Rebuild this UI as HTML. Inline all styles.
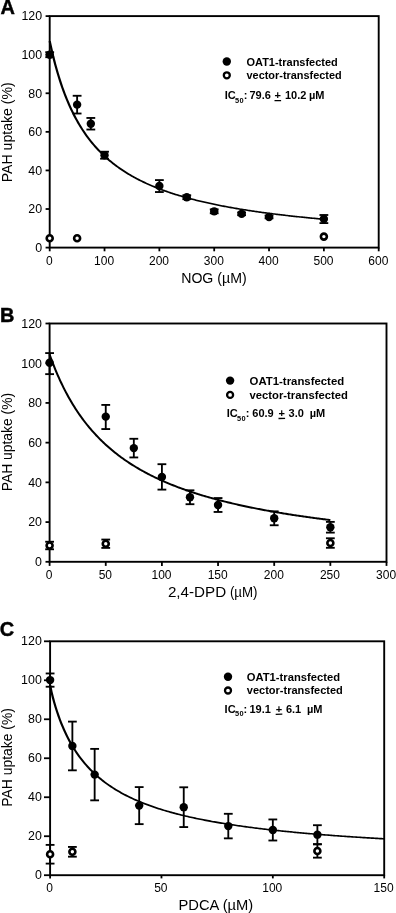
<!DOCTYPE html>
<html><head><meta charset="utf-8"><title>PAH uptake</title>
<style>
html,body{margin:0;padding:0;background:#fff;}
body{width:396px;height:913px;overflow:hidden;}
svg{display:block;font-family:"Liberation Sans",sans-serif;fill:#000;}
svg text{white-space:pre;}
</style></head><body>
<svg width="396" height="913" viewBox="0 0 396 913">
<rect x="0" y="0" width="396" height="913" fill="#fff"/>
<g stroke="#000" fill="none" stroke-linecap="butt">
<rect x="49.70" y="16.10" width="329.00" height="231.50" stroke-width="1.9"/>
<line x1="45.60" y1="247.60" x2="49.70" y2="247.60" stroke-width="1.8" />
<line x1="45.60" y1="209.02" x2="49.70" y2="209.02" stroke-width="1.8" />
<line x1="45.60" y1="170.43" x2="49.70" y2="170.43" stroke-width="1.8" />
<line x1="45.60" y1="131.85" x2="49.70" y2="131.85" stroke-width="1.8" />
<line x1="45.60" y1="93.27" x2="49.70" y2="93.27" stroke-width="1.8" />
<line x1="45.60" y1="54.68" x2="49.70" y2="54.68" stroke-width="1.8" />
<line x1="45.60" y1="16.10" x2="49.70" y2="16.10" stroke-width="1.8" />
<line x1="49.70" y1="247.60" x2="49.70" y2="251.30" stroke-width="1.8" />
<line x1="104.53" y1="247.60" x2="104.53" y2="251.30" stroke-width="1.8" />
<line x1="159.37" y1="247.60" x2="159.37" y2="251.30" stroke-width="1.8" />
<line x1="214.20" y1="247.60" x2="214.20" y2="251.30" stroke-width="1.8" />
<line x1="269.03" y1="247.60" x2="269.03" y2="251.30" stroke-width="1.8" />
<line x1="323.87" y1="247.60" x2="323.87" y2="251.30" stroke-width="1.8" />
<line x1="378.70" y1="247.60" x2="378.70" y2="251.30" stroke-width="1.8" />
<polyline transform="scale(1,0.72)" points="49.70,57.19 50.84,64.51 51.98,71.45 53.13,78.07 54.27,84.36 55.41,90.37 56.55,96.10 57.70,101.59 58.84,106.83 59.98,111.85 61.12,116.66 62.27,121.28 63.41,125.72 64.55,129.98 65.69,134.07 66.84,138.02 67.98,141.81 69.12,145.47 70.26,149.00 71.40,152.41 72.55,155.70 73.69,158.88 74.83,161.95 75.97,164.92 77.12,167.80 78.26,170.59 79.40,173.29 80.54,175.90 81.69,178.44 82.83,180.90 83.97,183.29 85.11,185.61 86.26,187.87 87.40,190.06 88.54,192.19 89.68,194.26 90.83,196.28 91.97,198.24 93.11,200.15 94.25,202.01 95.39,203.83 96.54,205.59 97.68,207.32 98.82,209.00 99.96,210.64 101.11,212.24 102.25,213.81 103.39,215.33 104.53,216.82 105.68,218.28 106.82,219.70 107.96,221.10 109.10,222.46 110.25,223.79 111.39,225.09 112.53,226.37 113.67,227.61 114.81,228.83 115.96,230.03 117.10,231.20 118.24,232.35 119.38,233.47 120.53,234.58 121.67,235.66 122.81,236.71 123.95,237.75 125.10,238.77 126.24,239.77 127.38,240.75 128.52,241.71 129.67,242.66 130.81,243.58 131.95,244.49 133.09,245.39 134.23,246.27 135.38,247.13 136.52,247.98 137.66,248.81 138.80,249.63 139.95,250.43 141.09,251.22 142.23,252.00 143.37,252.76 144.52,253.51 145.66,254.25 146.80,254.98 147.94,255.70 149.09,256.40 150.23,257.10 151.37,257.78 152.51,258.45 153.65,259.11 154.80,259.76 155.94,260.40 157.08,261.03 158.22,261.66 159.37,262.27 160.51,262.87 161.65,263.47 162.79,264.05 163.94,264.63 165.08,265.20 166.22,265.76 167.36,266.31 168.51,266.86 169.65,267.40 170.79,267.93 171.93,268.45 173.07,268.97 174.22,269.48 175.36,269.98 176.50,270.47 177.64,270.96 178.79,271.45 179.93,271.92 181.07,272.39 182.21,272.85 183.36,273.31 184.50,273.76 185.64,274.21 186.78,274.65 187.93,275.09 189.07,275.51 190.21,275.94 191.35,276.36 192.50,276.77 193.64,277.18 194.78,277.58 195.92,277.98 197.06,278.38 198.21,278.77 199.35,279.15 200.49,279.53 201.63,279.91 202.78,280.28 203.92,280.65 205.06,281.01 206.20,281.37 207.35,281.72 208.49,282.07 209.63,282.42 210.77,282.76 211.92,283.10 213.06,283.44 214.20,283.77 215.34,284.10 216.48,284.42 217.63,284.74 218.77,285.06 219.91,285.38 221.05,285.69 222.20,285.99 223.34,286.30 224.48,286.60 225.62,286.90 226.77,287.19 227.91,287.49 229.05,287.77 230.19,288.06 231.34,288.34 232.48,288.62 233.62,288.90 234.76,289.18 235.90,289.45 237.05,289.72 238.19,289.98 239.33,290.25 240.47,290.51 241.62,290.77 242.76,291.02 243.90,291.28 245.04,291.53 246.19,291.78 247.33,292.03 248.47,292.27 249.61,292.51 250.76,292.75 251.90,292.99 253.04,293.22 254.18,293.46 255.32,293.69 256.47,293.92 257.61,294.14 258.75,294.37 259.89,294.59 261.04,294.81 262.18,295.03 263.32,295.25 264.46,295.46 265.61,295.68 266.75,295.89 267.89,296.10 269.03,296.31 270.18,296.51 271.32,296.72 272.46,296.92 273.60,297.12 274.75,297.32 275.89,297.51 277.03,297.71 278.17,297.90 279.31,298.10 280.46,298.29 281.60,298.48 282.74,298.66 283.88,298.85 285.03,299.03 286.17,299.22 287.31,299.40 288.45,299.58 289.60,299.76 290.74,299.93 291.88,300.11 293.02,300.28 294.17,300.46 295.31,300.63 296.45,300.80 297.59,300.97 298.73,301.13 299.88,301.30 301.02,301.47 302.16,301.63 303.30,301.79 304.45,301.95 305.59,302.11 306.73,302.27 307.87,302.43 309.02,302.59 310.16,302.74 311.30,302.89 312.44,303.05 313.59,303.20 314.73,303.35 315.87,303.50 317.01,303.65 318.15,303.79 319.30,303.94 320.44,304.09 321.58,304.23 322.72,304.37 323.87,304.52" stroke-width="2.25" stroke-linejoin="round"/>
<line x1="49.70" y1="52.18" x2="49.70" y2="57.19" stroke-width="1.85" />
<line x1="45.30" y1="52.18" x2="54.10" y2="52.18" stroke-width="1.85" />
<line x1="45.30" y1="57.19" x2="54.10" y2="57.19" stroke-width="1.85" />
<line x1="77.12" y1="95.77" x2="77.12" y2="113.52" stroke-width="1.85" />
<line x1="72.72" y1="95.77" x2="81.52" y2="95.77" stroke-width="1.85" />
<line x1="72.72" y1="113.52" x2="81.52" y2="113.52" stroke-width="1.85" />
<line x1="90.83" y1="117.96" x2="90.83" y2="129.53" stroke-width="1.85" />
<line x1="86.42" y1="117.96" x2="95.23" y2="117.96" stroke-width="1.85" />
<line x1="86.42" y1="129.53" x2="95.23" y2="129.53" stroke-width="1.85" />
<line x1="104.53" y1="151.72" x2="104.53" y2="158.67" stroke-width="1.85" />
<line x1="100.13" y1="151.72" x2="108.93" y2="151.72" stroke-width="1.85" />
<line x1="100.13" y1="158.67" x2="108.93" y2="158.67" stroke-width="1.85" />
<line x1="159.37" y1="180.08" x2="159.37" y2="192.04" stroke-width="1.85" />
<line x1="154.97" y1="180.08" x2="163.77" y2="180.08" stroke-width="1.85" />
<line x1="154.97" y1="192.04" x2="163.77" y2="192.04" stroke-width="1.85" />
<line x1="186.78" y1="195.32" x2="186.78" y2="199.18" stroke-width="1.85" />
<line x1="182.38" y1="195.32" x2="191.18" y2="195.32" stroke-width="1.85" />
<line x1="182.38" y1="199.18" x2="191.18" y2="199.18" stroke-width="1.85" />
<line x1="214.20" y1="209.40" x2="214.20" y2="213.26" stroke-width="1.85" />
<line x1="209.80" y1="209.40" x2="218.60" y2="209.40" stroke-width="1.85" />
<line x1="209.80" y1="213.26" x2="218.60" y2="213.26" stroke-width="1.85" />
<line x1="241.62" y1="212.49" x2="241.62" y2="215.19" stroke-width="1.85" />
<line x1="237.22" y1="212.49" x2="246.02" y2="212.49" stroke-width="1.85" />
<line x1="237.22" y1="215.19" x2="246.02" y2="215.19" stroke-width="1.85" />
<line x1="269.03" y1="215.58" x2="269.03" y2="218.28" stroke-width="1.85" />
<line x1="264.63" y1="215.58" x2="273.43" y2="215.58" stroke-width="1.85" />
<line x1="264.63" y1="218.28" x2="273.43" y2="218.28" stroke-width="1.85" />
<line x1="323.87" y1="215.00" x2="323.87" y2="223.10" stroke-width="1.85" />
<line x1="319.47" y1="215.00" x2="328.27" y2="215.00" stroke-width="1.85" />
<line x1="319.47" y1="223.10" x2="328.27" y2="223.10" stroke-width="1.85" />
</g>
<circle cx="49.70" cy="54.68" r="4.2" fill="#000"/>
<circle cx="77.12" cy="104.65" r="4.2" fill="#000"/>
<circle cx="90.83" cy="123.75" r="4.2" fill="#000"/>
<circle cx="104.53" cy="155.19" r="4.2" fill="#000"/>
<circle cx="159.37" cy="186.06" r="4.2" fill="#000"/>
<circle cx="186.78" cy="197.25" r="4.2" fill="#000"/>
<circle cx="214.20" cy="211.33" r="4.2" fill="#000"/>
<circle cx="241.62" cy="213.84" r="4.2" fill="#000"/>
<circle cx="269.03" cy="216.93" r="4.2" fill="#000"/>
<circle cx="323.87" cy="219.05" r="4.2" fill="#000"/>
<circle cx="49.70" cy="238.24" r="3.0" fill="#fff" stroke="#000" stroke-width="2.6"/>
<circle cx="77.12" cy="238.24" r="3.0" fill="#fff" stroke="#000" stroke-width="2.6"/>
<circle cx="323.87" cy="236.60" r="3.0" fill="#fff" stroke="#000" stroke-width="2.6"/>
<text transform="translate(42.10,251.90) scale(1.035,1)" font-size="12" text-anchor="end">0</text>
<text transform="translate(42.10,213.32) scale(1.035,1)" font-size="12" text-anchor="end">20</text>
<text transform="translate(42.10,174.73) scale(1.035,1)" font-size="12" text-anchor="end">40</text>
<text transform="translate(42.10,136.15) scale(1.035,1)" font-size="12" text-anchor="end">60</text>
<text transform="translate(42.10,97.57) scale(1.035,1)" font-size="12" text-anchor="end">80</text>
<text transform="translate(42.10,58.98) scale(1.035,1)" font-size="12" text-anchor="end">100</text>
<text transform="translate(42.10,20.40) scale(1.035,1)" font-size="12" text-anchor="end">120</text>
<text transform="translate(49.30,264.50) scale(1.0,1)" font-size="12" text-anchor="middle">0</text>
<text transform="translate(104.13,264.50) scale(1.0,1)" font-size="12" text-anchor="middle">100</text>
<text transform="translate(158.97,264.50) scale(1.0,1)" font-size="12" text-anchor="middle">200</text>
<text transform="translate(213.80,264.50) scale(1.0,1)" font-size="12" text-anchor="middle">300</text>
<text transform="translate(268.63,264.50) scale(1.0,1)" font-size="12" text-anchor="middle">400</text>
<text transform="translate(323.47,264.50) scale(1.0,1)" font-size="12" text-anchor="middle">500</text>
<text transform="translate(378.30,264.50) scale(1.0,1)" font-size="12" text-anchor="middle">600</text>
<text transform="translate(12,132.25) rotate(-90)" font-size="14.1" text-anchor="middle">PAH uptake (%)</text>
<text transform="translate(213.90,283.30) scale(1.01,1)" font-size="14" text-anchor="middle">NOG (µM)</text>
<text transform="translate(0.4,14.4) scale(0.95,1)" font-size="21" font-weight="bold" stroke="#000" stroke-width="0.45">A</text>
<circle cx="226.80" cy="61.50" r="4.2" fill="#000"/>
<circle cx="226.80" cy="75.30" r="3.0" fill="#fff" stroke="#000" stroke-width="2.3"/>
<text x="246.50" y="65.80" font-size="10.85" text-anchor="start" font-weight="bold" textLength="91.3" lengthAdjust="spacingAndGlyphs">OAT1-transfected</text>
<text x="246.50" y="79.15" font-size="10.85" text-anchor="start" font-weight="bold" textLength="95.2" lengthAdjust="spacingAndGlyphs">vector-transfected</text>
<text x="224.70" y="99.10" font-size="11" text-anchor="start" font-weight="bold" >IC</text>
<text x="235.00" y="102.80" font-size="7.4" text-anchor="start" font-weight="bold" letter-spacing="0.4">50</text>
<text x="243.70" y="99.10" font-size="11" text-anchor="start" font-weight="bold" >:</text>
<text x="249.50" y="99.10" font-size="11" text-anchor="start" font-weight="bold" >79.6</text>
<text x="274.50" y="99.10" font-size="11" text-anchor="start" font-weight="bold" >+</text>
<line x1="274.50" y1="100.70" x2="281.10" y2="100.60" stroke-width="1.3" stroke="#000"/>
<text x="285.00" y="99.10" font-size="11" text-anchor="start" font-weight="bold" >10.2</text>
<text x="308.90" y="99.10" font-size="11" text-anchor="start" font-weight="bold" >µM</text>
<g stroke="#000" fill="none" stroke-linecap="butt">
<rect x="49.60" y="323.50" width="336.90" height="238.30" stroke-width="1.9"/>
<line x1="45.50" y1="561.80" x2="49.60" y2="561.80" stroke-width="1.8" />
<line x1="45.50" y1="522.08" x2="49.60" y2="522.08" stroke-width="1.8" />
<line x1="45.50" y1="482.37" x2="49.60" y2="482.37" stroke-width="1.8" />
<line x1="45.50" y1="442.65" x2="49.60" y2="442.65" stroke-width="1.8" />
<line x1="45.50" y1="402.93" x2="49.60" y2="402.93" stroke-width="1.8" />
<line x1="45.50" y1="363.22" x2="49.60" y2="363.22" stroke-width="1.8" />
<line x1="45.50" y1="323.50" x2="49.60" y2="323.50" stroke-width="1.8" />
<line x1="49.60" y1="561.80" x2="49.60" y2="565.90" stroke-width="1.8" />
<line x1="105.75" y1="561.80" x2="105.75" y2="565.90" stroke-width="1.8" />
<line x1="161.90" y1="561.80" x2="161.90" y2="565.90" stroke-width="1.8" />
<line x1="218.05" y1="561.80" x2="218.05" y2="565.90" stroke-width="1.8" />
<line x1="274.20" y1="561.80" x2="274.20" y2="565.90" stroke-width="1.8" />
<line x1="330.35" y1="561.80" x2="330.35" y2="565.90" stroke-width="1.8" />
<line x1="386.50" y1="561.80" x2="386.50" y2="565.90" stroke-width="1.8" />
<polyline transform="scale(1,0.95)" points="49.60,373.14 50.77,376.56 51.94,379.88 53.11,383.10 54.28,386.22 55.45,389.25 56.62,392.19 57.79,395.06 58.96,397.84 60.13,400.54 61.30,403.17 62.47,405.73 63.64,408.22 64.81,410.64 65.98,413.01 67.15,415.31 68.32,417.56 69.49,419.74 70.66,421.88 71.83,423.96 73.00,426.00 74.17,427.98 75.34,429.92 76.51,431.81 77.67,433.66 78.84,435.47 80.01,437.24 81.18,438.97 82.35,440.66 83.52,442.31 84.69,443.93 85.86,445.52 87.03,447.07 88.20,448.59 89.37,450.08 90.54,451.53 91.71,452.96 92.88,454.36 94.05,455.74 95.22,457.08 96.39,458.40 97.56,459.69 98.73,460.96 99.90,462.21 101.07,463.43 102.24,464.63 103.41,465.81 104.58,466.97 105.75,468.10 106.92,469.22 108.09,470.31 109.26,471.39 110.43,472.45 111.60,473.49 112.77,474.51 113.94,475.52 115.11,476.50 116.28,477.48 117.45,478.43 118.62,479.37 119.79,480.30 120.96,481.21 122.13,482.10 123.30,482.98 124.47,483.85 125.64,484.70 126.81,485.55 127.98,486.37 129.15,487.19 130.32,487.99 131.49,488.78 132.66,489.56 133.82,490.33 134.99,491.09 136.16,491.83 137.33,492.56 138.50,493.29 139.67,494.00 140.84,494.71 142.01,495.40 143.18,496.08 144.35,496.76 145.52,497.42 146.69,498.08 147.86,498.73 149.03,499.37 150.20,500.00 151.37,500.62 152.54,501.23 153.71,501.84 154.88,502.43 156.05,503.02 157.22,503.61 158.39,504.18 159.56,504.75 160.73,505.31 161.90,505.86 163.07,506.41 164.24,506.95 165.41,507.48 166.58,508.01 167.75,508.53 168.92,509.04 170.09,509.55 171.26,510.05 172.43,510.54 173.60,511.03 174.77,511.52 175.94,511.99 177.11,512.47 178.28,512.93 179.45,513.40 180.62,513.85 181.79,514.30 182.96,514.75 184.13,515.19 185.30,515.63 186.47,516.06 187.64,516.49 188.81,516.91 189.97,517.33 191.14,517.74 192.31,518.15 193.48,518.55 194.65,518.95 195.82,519.35 196.99,519.74 198.16,520.13 199.33,520.51 200.50,520.89 201.67,521.26 202.84,521.64 204.01,522.00 205.18,522.37 206.35,522.73 207.52,523.08 208.69,523.44 209.86,523.79 211.03,524.13 212.20,524.47 213.37,524.81 214.54,525.15 215.71,525.48 216.88,525.81 218.05,526.14 219.22,526.46 220.39,526.78 221.56,527.10 222.73,527.41 223.90,527.72 225.07,528.03 226.24,528.34 227.41,528.64 228.58,528.94 229.75,529.24 230.92,529.53 232.09,529.82 233.26,530.11 234.43,530.40 235.60,530.68 236.77,530.96 237.94,531.24 239.11,531.51 240.28,531.79 241.45,532.06 242.62,532.33 243.79,532.60 244.96,532.86 246.12,533.12 247.29,533.38 248.46,533.64 249.63,533.89 250.80,534.15 251.97,534.40 253.14,534.65 254.31,534.89 255.48,535.14 256.65,535.38 257.82,535.62 258.99,535.86 260.16,536.10 261.33,536.33 262.50,536.56 263.67,536.80 264.84,537.02 266.01,537.25 267.18,537.48 268.35,537.70 269.52,537.92 270.69,538.14 271.86,538.36 273.03,538.58 274.20,538.79 275.37,539.01 276.54,539.22 277.71,539.43 278.88,539.64 280.05,539.84 281.22,540.05 282.39,540.25 283.56,540.45 284.73,540.65 285.90,540.85 287.07,541.05 288.24,541.25 289.41,541.44 290.58,541.63 291.75,541.83 292.92,542.02 294.09,542.20 295.26,542.39 296.43,542.58 297.60,542.76 298.77,542.95 299.94,543.13 301.11,543.31 302.28,543.49 303.44,543.67 304.61,543.84 305.78,544.02 306.95,544.19 308.12,544.37 309.29,544.54 310.46,544.71 311.63,544.88 312.80,545.05 313.97,545.22 315.14,545.38 316.31,545.55 317.48,545.71 318.65,545.87 319.82,546.03 320.99,546.20 322.16,546.36 323.33,546.51 324.50,546.67 325.67,546.83 326.84,546.98 328.01,547.14 329.18,547.29 330.35,547.44" stroke-width="2.05" stroke-linejoin="round"/>
<line x1="49.60" y1="353.09" x2="49.60" y2="374.14" stroke-width="1.85" />
<line x1="45.20" y1="353.09" x2="54.00" y2="353.09" stroke-width="1.85" />
<line x1="45.20" y1="374.14" x2="54.00" y2="374.14" stroke-width="1.85" />
<line x1="105.75" y1="404.92" x2="105.75" y2="429.05" stroke-width="1.85" />
<line x1="101.35" y1="404.92" x2="110.15" y2="404.92" stroke-width="1.85" />
<line x1="101.35" y1="429.05" x2="110.15" y2="429.05" stroke-width="1.85" />
<line x1="133.82" y1="438.78" x2="133.82" y2="457.44" stroke-width="1.85" />
<line x1="129.42" y1="438.78" x2="138.22" y2="438.78" stroke-width="1.85" />
<line x1="129.42" y1="457.44" x2="138.22" y2="457.44" stroke-width="1.85" />
<line x1="161.90" y1="464.20" x2="161.90" y2="489.61" stroke-width="1.85" />
<line x1="157.50" y1="464.20" x2="166.30" y2="464.20" stroke-width="1.85" />
<line x1="157.50" y1="489.61" x2="166.30" y2="489.61" stroke-width="1.85" />
<line x1="189.97" y1="490.31" x2="189.97" y2="504.21" stroke-width="1.85" />
<line x1="185.57" y1="490.31" x2="194.38" y2="490.31" stroke-width="1.85" />
<line x1="185.57" y1="504.21" x2="194.38" y2="504.21" stroke-width="1.85" />
<line x1="218.05" y1="498.05" x2="218.05" y2="511.96" stroke-width="1.85" />
<line x1="213.65" y1="498.05" x2="222.45" y2="498.05" stroke-width="1.85" />
<line x1="213.65" y1="511.96" x2="222.45" y2="511.96" stroke-width="1.85" />
<line x1="274.20" y1="511.36" x2="274.20" y2="525.26" stroke-width="1.85" />
<line x1="269.80" y1="511.36" x2="278.60" y2="511.36" stroke-width="1.85" />
<line x1="269.80" y1="525.26" x2="278.60" y2="525.26" stroke-width="1.85" />
<line x1="330.35" y1="521.88" x2="330.35" y2="532.61" stroke-width="1.85" />
<line x1="325.95" y1="521.88" x2="334.75" y2="521.88" stroke-width="1.85" />
<line x1="325.95" y1="532.61" x2="334.75" y2="532.61" stroke-width="1.85" />
<line x1="49.60" y1="541.74" x2="49.60" y2="549.29" stroke-width="1.85" />
<line x1="45.20" y1="541.74" x2="54.00" y2="541.74" stroke-width="1.85" />
<line x1="45.20" y1="549.29" x2="54.00" y2="549.29" stroke-width="1.85" />
<line x1="105.75" y1="539.56" x2="105.75" y2="547.90" stroke-width="1.85" />
<line x1="101.35" y1="539.56" x2="110.15" y2="539.56" stroke-width="1.85" />
<line x1="101.35" y1="547.90" x2="110.15" y2="547.90" stroke-width="1.85" />
<line x1="330.35" y1="538.27" x2="330.35" y2="547.80" stroke-width="1.85" />
<line x1="325.95" y1="538.27" x2="334.75" y2="538.27" stroke-width="1.85" />
<line x1="325.95" y1="547.80" x2="334.75" y2="547.80" stroke-width="1.85" />
</g>
<circle cx="49.60" cy="362.82" r="4.2" fill="#000"/>
<circle cx="105.75" cy="416.64" r="4.2" fill="#000"/>
<circle cx="133.82" cy="448.11" r="4.2" fill="#000"/>
<circle cx="161.90" cy="476.91" r="4.2" fill="#000"/>
<circle cx="189.97" cy="497.26" r="4.2" fill="#000"/>
<circle cx="218.05" cy="505.01" r="4.2" fill="#000"/>
<circle cx="274.20" cy="518.31" r="4.2" fill="#000"/>
<circle cx="330.35" cy="527.25" r="4.2" fill="#000"/>
<circle cx="49.60" cy="545.52" r="3.0" fill="#fff" stroke="#000" stroke-width="2.6"/>
<circle cx="105.75" cy="543.73" r="3.0" fill="#fff" stroke="#000" stroke-width="2.6"/>
<circle cx="330.35" cy="543.03" r="3.0" fill="#fff" stroke="#000" stroke-width="2.6"/>
<text transform="translate(42.00,566.10) scale(1.035,1)" font-size="12" text-anchor="end">0</text>
<text transform="translate(42.00,526.38) scale(1.035,1)" font-size="12" text-anchor="end">20</text>
<text transform="translate(42.00,486.67) scale(1.035,1)" font-size="12" text-anchor="end">40</text>
<text transform="translate(42.00,446.95) scale(1.035,1)" font-size="12" text-anchor="end">60</text>
<text transform="translate(42.00,407.23) scale(1.035,1)" font-size="12" text-anchor="end">80</text>
<text transform="translate(42.00,367.52) scale(1.035,1)" font-size="12" text-anchor="end">100</text>
<text transform="translate(42.00,327.80) scale(1.035,1)" font-size="12" text-anchor="end">120</text>
<text transform="translate(49.20,578.90) scale(1.0,1)" font-size="12" text-anchor="middle">0</text>
<text transform="translate(105.35,578.90) scale(1.0,1)" font-size="12" text-anchor="middle">50</text>
<text transform="translate(161.50,578.90) scale(1.0,1)" font-size="12" text-anchor="middle">100</text>
<text transform="translate(217.65,578.90) scale(1.0,1)" font-size="12" text-anchor="middle">150</text>
<text transform="translate(273.80,578.90) scale(1.0,1)" font-size="12" text-anchor="middle">200</text>
<text transform="translate(329.95,578.90) scale(1.0,1)" font-size="12" text-anchor="middle">250</text>
<text transform="translate(386.10,578.90) scale(1.0,1)" font-size="12" text-anchor="middle">300</text>
<text transform="translate(12,442.05) rotate(-90)" font-size="13.9" text-anchor="middle">PAH uptake (%)</text>
<text transform="translate(167.90,597.30) scale(1.085,1)" font-size="14">2,4-DPD</text>
<text transform="translate(229.90,597.30) scale(0.95,1)" font-size="14">(µM)</text>
<text transform="translate(0.0,321.9) scale(0.95,1)" font-size="21" font-weight="bold" stroke="#000" stroke-width="0.45">B</text>
<circle cx="230.10" cy="380.60" r="4.2" fill="#000"/>
<circle cx="230.10" cy="394.90" r="3.0" fill="#fff" stroke="#000" stroke-width="2.3"/>
<text x="249.60" y="385.20" font-size="11.2" text-anchor="start" font-weight="bold" textLength="94.6" lengthAdjust="spacingAndGlyphs">OAT1-transfected</text>
<text x="249.60" y="399.05" font-size="11.2" text-anchor="start" font-weight="bold" textLength="98.2" lengthAdjust="spacingAndGlyphs">vector-transfected</text>
<text x="226.70" y="416.90" font-size="11" text-anchor="start" font-weight="bold" >IC</text>
<text x="237.00" y="420.60" font-size="7.4" text-anchor="start" font-weight="bold" letter-spacing="0.4">50</text>
<text x="245.70" y="416.90" font-size="11" text-anchor="start" font-weight="bold" >:</text>
<text x="252.30" y="416.90" font-size="11" text-anchor="start" font-weight="bold" >60.9</text>
<text x="278.50" y="416.90" font-size="11" text-anchor="start" font-weight="bold" >+</text>
<line x1="278.50" y1="418.50" x2="285.10" y2="418.40" stroke-width="1.3" stroke="#000"/>
<text x="288.60" y="416.90" font-size="11" text-anchor="start" font-weight="bold" >3.0</text>
<text x="309.70" y="416.90" font-size="11" text-anchor="start" font-weight="bold" >µM</text>
<g stroke="#000" fill="none" stroke-linecap="butt">
<rect x="50.10" y="641.30" width="334.10" height="233.90" stroke-width="1.9"/>
<line x1="44.00" y1="875.20" x2="50.10" y2="875.20" stroke-width="1.8" />
<line x1="44.00" y1="836.22" x2="50.10" y2="836.22" stroke-width="1.8" />
<line x1="44.00" y1="797.23" x2="50.10" y2="797.23" stroke-width="1.8" />
<line x1="44.00" y1="758.25" x2="50.10" y2="758.25" stroke-width="1.8" />
<line x1="44.00" y1="719.27" x2="50.10" y2="719.27" stroke-width="1.8" />
<line x1="44.00" y1="680.28" x2="50.10" y2="680.28" stroke-width="1.8" />
<line x1="44.00" y1="641.30" x2="50.10" y2="641.30" stroke-width="1.8" />
<line x1="50.10" y1="875.20" x2="50.10" y2="878.40" stroke-width="1.8" />
<line x1="161.47" y1="875.20" x2="161.47" y2="878.40" stroke-width="1.8" />
<line x1="272.83" y1="875.20" x2="272.83" y2="878.40" stroke-width="1.8" />
<line x1="384.20" y1="875.20" x2="384.20" y2="878.40" stroke-width="1.8" />
<polyline transform="scale(1,0.72)" points="50.10,951.71 51.49,960.90 52.88,968.74 54.28,975.84 55.67,982.38 57.06,988.45 58.45,994.12 59.84,999.43 61.24,1004.43 62.63,1009.15 64.02,1013.61 65.41,1017.84 66.81,1021.86 68.20,1025.68 69.59,1029.32 70.98,1032.79 72.37,1036.11 73.77,1039.29 75.16,1042.33 76.55,1045.25 77.94,1048.05 79.33,1050.74 80.73,1053.33 82.12,1055.82 83.51,1058.22 84.90,1060.53 86.29,1062.76 87.69,1064.92 89.08,1067.00 90.47,1069.01 91.86,1070.96 93.25,1072.85 94.65,1074.68 96.04,1076.45 97.43,1078.16 98.82,1079.83 100.22,1081.45 101.61,1083.02 103.00,1084.54 104.39,1086.03 105.78,1087.47 107.18,1088.87 108.57,1090.24 109.96,1091.57 111.35,1092.86 112.74,1094.12 114.14,1095.35 115.53,1096.55 116.92,1097.72 118.31,1098.87 119.70,1099.98 121.10,1101.07 122.49,1102.13 123.88,1103.17 125.27,1104.18 126.66,1105.17 128.06,1106.14 129.45,1107.09 130.84,1108.02 132.23,1108.93 133.62,1109.82 135.02,1110.69 136.41,1111.54 137.80,1112.37 139.19,1113.19 140.59,1113.99 141.98,1114.78 143.37,1115.55 144.76,1116.30 146.15,1117.04 147.55,1117.77 148.94,1118.48 150.33,1119.18 151.72,1119.87 153.11,1120.54 154.51,1121.20 155.90,1121.85 157.29,1122.49 158.68,1123.12 160.07,1123.74 161.47,1124.34 162.86,1124.94 164.25,1125.52 165.64,1126.10 167.03,1126.66 168.43,1127.22 169.82,1127.77 171.21,1128.30 172.60,1128.83 174.00,1129.35 175.39,1129.87 176.78,1130.37 178.17,1130.87 179.56,1131.36 180.96,1131.84 182.35,1132.31 183.74,1132.78 185.13,1133.24 186.52,1133.70 187.92,1134.14 189.31,1134.58 190.70,1135.02 192.09,1135.44 193.48,1135.87 194.88,1136.28 196.27,1136.69 197.66,1137.10 199.05,1137.49 200.44,1137.89 201.84,1138.27 203.23,1138.66 204.62,1139.03 206.01,1139.41 207.41,1139.77 208.80,1140.14 210.19,1140.49 211.58,1140.85 212.97,1141.20 214.37,1141.54 215.76,1141.88 217.15,1142.21 218.54,1142.55 219.93,1142.87 221.33,1143.19 222.72,1143.51 224.11,1143.83 225.50,1144.14 226.89,1144.45 228.29,1144.75 229.68,1145.05 231.07,1145.35 232.46,1145.64 233.85,1145.93 235.25,1146.22 236.64,1146.50 238.03,1146.78 239.42,1147.06 240.82,1147.33 242.21,1147.60 243.60,1147.87 244.99,1148.13 246.38,1148.39 247.78,1148.65 249.17,1148.91 250.56,1149.16 251.95,1149.41 253.34,1149.66 254.74,1149.90 256.13,1150.14 257.52,1150.38 258.91,1150.62 260.30,1150.85 261.70,1151.08 263.09,1151.31 264.48,1151.54 265.87,1151.77 267.26,1151.99 268.66,1152.21 270.05,1152.43 271.44,1152.64 272.83,1152.86 274.23,1153.07 275.62,1153.28 277.01,1153.49 278.40,1153.69 279.79,1153.89 281.19,1154.10 282.58,1154.30 283.97,1154.49 285.36,1154.69 286.75,1154.88 288.15,1155.08 289.54,1155.27 290.93,1155.45 292.32,1155.64 293.71,1155.83 295.11,1156.01 296.50,1156.19 297.89,1156.37 299.28,1156.55 300.68,1156.72 302.07,1156.90 303.46,1157.07 304.85,1157.25 306.24,1157.42 307.64,1157.58 309.03,1157.75 310.42,1157.92 311.81,1158.08 313.20,1158.25 314.60,1158.41 315.99,1158.57 317.38,1158.73 318.77,1158.88 320.16,1159.04 321.56,1159.20 322.95,1159.35 324.34,1159.50 325.73,1159.65 327.12,1159.80 328.52,1159.95 329.91,1160.10 331.30,1160.24 332.69,1160.39 334.08,1160.53 335.48,1160.68 336.87,1160.82 338.26,1160.96 339.65,1161.10 341.05,1161.23 342.44,1161.37 343.83,1161.51 345.22,1161.64 346.61,1161.78 348.01,1161.91 349.40,1162.04 350.79,1162.17 352.18,1162.30 353.57,1162.43 354.97,1162.56 356.36,1162.68 357.75,1162.81 359.14,1162.93 360.53,1163.06 361.93,1163.18 363.32,1163.30 364.71,1163.42 366.10,1163.54 367.50,1163.66 368.89,1163.78 370.28,1163.90 371.67,1164.02 373.06,1164.13 374.46,1164.25 375.85,1164.36 377.24,1164.47 378.63,1164.59 380.02,1164.70 381.42,1164.81 382.81,1164.92 384.20,1165.03" stroke-width="2.25" stroke-linejoin="round"/>
<line x1="50.10" y1="673.46" x2="50.10" y2="686.72" stroke-width="1.85" />
<line x1="45.70" y1="673.46" x2="54.50" y2="673.46" stroke-width="1.85" />
<line x1="45.70" y1="686.72" x2="54.50" y2="686.72" stroke-width="1.85" />
<line x1="72.37" y1="721.61" x2="72.37" y2="770.33" stroke-width="1.85" />
<line x1="67.97" y1="721.61" x2="76.77" y2="721.61" stroke-width="1.85" />
<line x1="67.97" y1="770.33" x2="76.77" y2="770.33" stroke-width="1.85" />
<line x1="94.65" y1="748.89" x2="94.65" y2="800.35" stroke-width="1.85" />
<line x1="90.25" y1="748.89" x2="99.05" y2="748.89" stroke-width="1.85" />
<line x1="90.25" y1="800.35" x2="99.05" y2="800.35" stroke-width="1.85" />
<line x1="139.19" y1="787.10" x2="139.19" y2="824.13" stroke-width="1.85" />
<line x1="134.79" y1="787.10" x2="143.59" y2="787.10" stroke-width="1.85" />
<line x1="134.79" y1="824.13" x2="143.59" y2="824.13" stroke-width="1.85" />
<line x1="183.74" y1="787.29" x2="183.74" y2="827.06" stroke-width="1.85" />
<line x1="179.34" y1="787.29" x2="188.14" y2="787.29" stroke-width="1.85" />
<line x1="179.34" y1="827.06" x2="188.14" y2="827.06" stroke-width="1.85" />
<line x1="228.29" y1="813.80" x2="228.29" y2="838.36" stroke-width="1.85" />
<line x1="223.89" y1="813.80" x2="232.69" y2="813.80" stroke-width="1.85" />
<line x1="223.89" y1="838.36" x2="232.69" y2="838.36" stroke-width="1.85" />
<line x1="272.83" y1="819.45" x2="272.83" y2="840.50" stroke-width="1.85" />
<line x1="268.43" y1="819.45" x2="277.23" y2="819.45" stroke-width="1.85" />
<line x1="268.43" y1="840.50" x2="277.23" y2="840.50" stroke-width="1.85" />
<line x1="317.38" y1="825.20" x2="317.38" y2="844.11" stroke-width="1.85" />
<line x1="312.98" y1="825.20" x2="321.78" y2="825.20" stroke-width="1.85" />
<line x1="312.98" y1="844.11" x2="321.78" y2="844.11" stroke-width="1.85" />
<line x1="50.10" y1="844.89" x2="50.10" y2="863.60" stroke-width="1.85" />
<line x1="45.70" y1="844.89" x2="54.50" y2="844.89" stroke-width="1.85" />
<line x1="45.70" y1="863.60" x2="54.50" y2="863.60" stroke-width="1.85" />
<line x1="72.37" y1="846.94" x2="72.37" y2="856.68" stroke-width="1.85" />
<line x1="67.97" y1="846.94" x2="76.77" y2="846.94" stroke-width="1.85" />
<line x1="67.97" y1="856.68" x2="76.77" y2="856.68" stroke-width="1.85" />
<line x1="317.38" y1="844.40" x2="317.38" y2="857.66" stroke-width="1.85" />
<line x1="312.98" y1="844.40" x2="321.78" y2="844.40" stroke-width="1.85" />
<line x1="312.98" y1="857.66" x2="321.78" y2="857.66" stroke-width="1.85" />
</g>
<circle cx="50.10" cy="680.09" r="4.2" fill="#000"/>
<circle cx="72.37" cy="745.97" r="4.2" fill="#000"/>
<circle cx="94.65" cy="774.62" r="4.2" fill="#000"/>
<circle cx="139.19" cy="805.61" r="4.2" fill="#000"/>
<circle cx="183.74" cy="807.17" r="4.2" fill="#000"/>
<circle cx="228.29" cy="826.08" r="4.2" fill="#000"/>
<circle cx="272.83" cy="829.98" r="4.2" fill="#000"/>
<circle cx="317.38" cy="834.66" r="4.2" fill="#000"/>
<circle cx="50.10" cy="854.25" r="3.0" fill="#fff" stroke="#000" stroke-width="2.6"/>
<circle cx="72.37" cy="851.81" r="3.0" fill="#fff" stroke="#000" stroke-width="2.6"/>
<circle cx="317.38" cy="851.03" r="3.0" fill="#fff" stroke="#000" stroke-width="2.6"/>
<text transform="translate(41.80,879.30) scale(1.035,1)" font-size="12" text-anchor="end">0</text>
<text transform="translate(41.80,840.32) scale(1.035,1)" font-size="12" text-anchor="end">20</text>
<text transform="translate(41.80,801.33) scale(1.035,1)" font-size="12" text-anchor="end">40</text>
<text transform="translate(41.80,762.35) scale(1.035,1)" font-size="12" text-anchor="end">60</text>
<text transform="translate(41.80,723.37) scale(1.035,1)" font-size="12" text-anchor="end">80</text>
<text transform="translate(41.80,684.38) scale(1.035,1)" font-size="12" text-anchor="end">100</text>
<text transform="translate(41.80,645.40) scale(1.035,1)" font-size="12" text-anchor="end">120</text>
<text transform="translate(49.50,892.30) scale(1.0,1)" font-size="12" text-anchor="middle">0</text>
<text transform="translate(160.87,892.30) scale(1.0,1)" font-size="12" text-anchor="middle">50</text>
<text transform="translate(272.23,892.30) scale(1.0,1)" font-size="12" text-anchor="middle">100</text>
<text transform="translate(383.60,892.30) scale(1.0,1)" font-size="12" text-anchor="middle">150</text>
<text transform="translate(12,757.35) rotate(-90)" font-size="13.9" text-anchor="middle">PAH uptake (%)</text>
<text transform="translate(215.90,909.90) scale(1.052,1)" font-size="14" text-anchor="middle">PDCA (µM)</text>
<text transform="translate(-0.3,635.9) scale(0.95,1)" font-size="21" font-weight="bold" stroke="#000" stroke-width="0.45">C</text>
<circle cx="228.00" cy="676.70" r="4.2" fill="#000"/>
<circle cx="228.00" cy="690.50" r="3.0" fill="#fff" stroke="#000" stroke-width="2.3"/>
<text x="246.80" y="681.00" font-size="11.0" text-anchor="start" font-weight="bold" textLength="93.2" lengthAdjust="spacingAndGlyphs">OAT1-transfected</text>
<text x="246.80" y="694.35" font-size="11.0" text-anchor="start" font-weight="bold" textLength="96.0" lengthAdjust="spacingAndGlyphs">vector-transfected</text>
<text x="224.60" y="712.70" font-size="11" text-anchor="start" font-weight="bold" >IC</text>
<text x="234.90" y="716.40" font-size="7.4" text-anchor="start" font-weight="bold" letter-spacing="0.4">50</text>
<text x="243.60" y="712.70" font-size="11" text-anchor="start" font-weight="bold" >:</text>
<text x="249.50" y="712.70" font-size="11" text-anchor="start" font-weight="bold" >19.1</text>
<text x="275.70" y="712.70" font-size="11" text-anchor="start" font-weight="bold" >+</text>
<line x1="275.70" y1="714.30" x2="282.30" y2="714.20" stroke-width="1.3" stroke="#000"/>
<text x="285.90" y="712.70" font-size="11" text-anchor="start" font-weight="bold" >6.1</text>
<text x="306.90" y="712.70" font-size="11" text-anchor="start" font-weight="bold" >µM</text>
</svg>
</body></html>
